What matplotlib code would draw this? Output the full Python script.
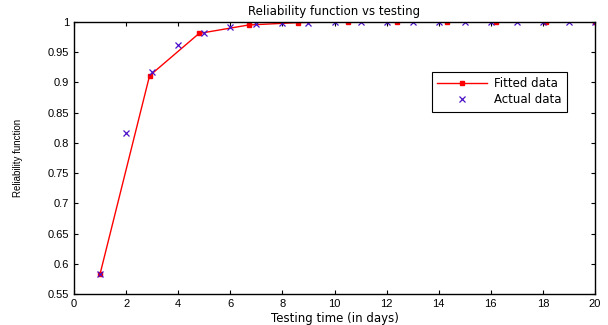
import matplotlib.pyplot as plt

plt.rcParams['font.family'] = ['Liberation Sans', 'DejaVu Sans']

# fitted curve
fit_days = [1, 2.9, 4.8, 6.7, 8.6, 10.5, 12.4, 14.3, 16.2, 18.1, 20]
fit_rel = [0.583, 0.911, 0.981, 0.995, 0.999, 1.0, 1.0, 1.0, 1.0, 1.0, 1.0]

# actual observations
act_days = [1, 2, 3, 4, 5, 6, 7, 8, 9, 10, 11, 12, 13, 14, 15, 16, 17, 18, 19, 20]
act_rel = [0.583, 0.817, 0.918, 0.962, 0.981, 0.991, 0.996, 0.998, 0.999, 1.0,
           1.0, 1.0, 1.0, 1.0, 1.0, 1.0, 1.0, 1.0, 1.0, 1.0]

fig = plt.figure(figsize=(6.08, 3.25), dpi=100)
ax = fig.add_axes([0.1217, 0.0954, 0.857, 0.837])

ax.plot(fit_days, fit_rel, color='red', lw=1, marker='s', ms=3, label='Fitted data')
ax.plot(act_days, act_rel, ls='none', marker='x', ms=4, mew=0.9, color='#4a10c8',
        label='Actual data')

ax.set_xlim(0, 20)
ax.set_ylim(0.55, 1)
ax.set_xticks(range(0, 21, 2))
ax.set_yticks([0.55, 0.6, 0.65, 0.7, 0.75, 0.8, 0.85, 0.9, 0.95, 1])
ax.set_yticklabels(['0.55', '0.6', '0.65', '0.7', '0.75', '0.8', '0.85', '0.9', '0.95', '1'])
ax.tick_params(direction='in', top=True, right=True, labelsize=8, length=3)
for s in ax.spines.values():
    s.set_linewidth(1)

wide = 'DejaVu Sans'
ax.set_title('Reliability function vs testing', fontsize=8.5, pad=5, family=wide)
ax.set_xlabel('Testing time (in days)', fontsize=8.5, labelpad=2, family=wide)
ax.set_ylabel('Reliability function', fontsize=7, labelpad=18)

leg = ax.legend(loc='upper left', bbox_to_anchor=(0.687, 0.816),
                prop={'family': wide, 'size': 8.5},
                fancybox=False, edgecolor='black', framealpha=1, borderaxespad=0,
                handlelength=4.2, handletextpad=0.6, borderpad=0.45,
                labelspacing=0.25)
leg.get_frame().set_linewidth(0.8)

fig.savefig('out.png')
